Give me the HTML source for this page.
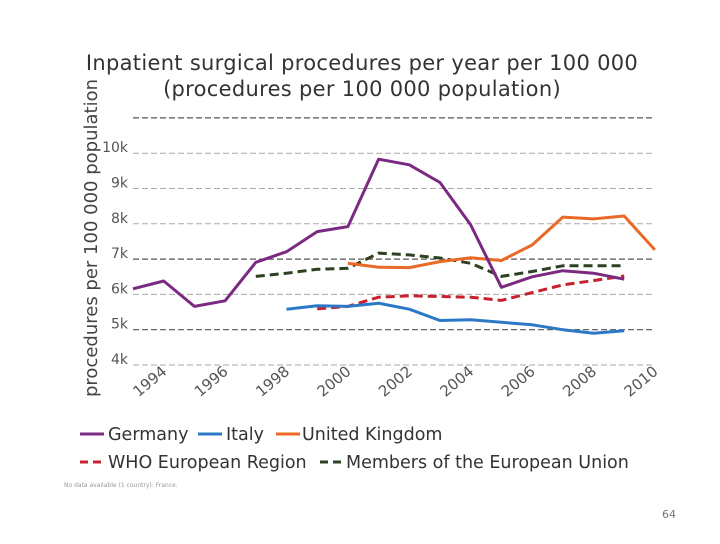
<!DOCTYPE html>
<html><head><meta charset="utf-8"><style>
body{margin:0;background:#fff;width:720px;height:540px;overflow:hidden;font-family:"DejaVu Sans","Liberation Sans",sans-serif}
</style></head><body>
<svg width="720" height="540">
<text x="362" y="70" text-anchor="middle" font-size="21" letter-spacing="0.3" fill="#333">Inpatient surgical procedures per year per 100 000</text>
<text x="362" y="96" text-anchor="middle" font-size="21" letter-spacing="0.3" fill="#333">(procedures per 100 000 population)</text>
<text transform="translate(97,238) rotate(-90)" text-anchor="middle" font-size="18" fill="#444">procedures per 100 000 population</text>
<g id="grid"></g><g id="ylab"></g><g id="xlab"></g><g id="series"></g>
<g font-size="17.5" fill="#333">
<line x1="80" y1="434" x2="104" y2="434" stroke="#7b2a82" stroke-width="3"/><text x="108" y="440">Germany</text>
<line x1="198" y1="434" x2="222" y2="434" stroke="#2b78c7" stroke-width="3"/><text x="226" y="440">Italy</text>
<line x1="276" y1="434" x2="300" y2="434" stroke="#e86a26" stroke-width="3"/><text x="302" y="440">United Kingdom</text>
<line x1="80" y1="462" x2="104" y2="462" stroke="#c8202f" stroke-width="3" stroke-dasharray="8,5"/><text x="108" y="468">WHO European Region</text>
<line x1="320" y1="462" x2="344" y2="462" stroke="#2d4020" stroke-width="3" stroke-dasharray="8,5"/><text x="346" y="468">Members of the European Union</text>
</g>
<text x="64" y="487" font-size="6" fill="#999">No data available (1 country): France.</text>
<text x="676" y="518" font-size="11" fill="#777" text-anchor="end">64</text>
</svg>
<script>
const years=[1993,1994,1995,1996,1997,1998,1999,2000,2001,2002,2003,2004,2005,2006,2007,2008,2009,2010];
const germany=[6.16,6.38,5.66,5.82,6.91,7.21,7.78,7.92,9.83,9.67,9.17,7.97,6.2,6.5,6.67,6.6,6.43,null];
const italy=[null,null,null,null,null,5.58,5.68,5.66,5.75,5.58,5.26,5.28,5.21,5.14,5.0,4.9,4.97,null];
const uk=[null,null,null,null,null,null,null,6.88,6.77,6.76,6.93,7.04,6.96,7.4,8.19,8.14,8.22,7.26];
const who=[null,null,null,null,null,null,5.59,5.66,5.92,5.96,5.94,5.92,5.83,6.05,6.27,6.39,6.52,null];
const eu=[null,null,null,null,6.51,6.6,6.71,6.74,7.17,7.12,7.03,6.88,6.51,6.65,6.81,6.81,6.81,null];
const yTicks=[4,5,6,7,8,9,10,11];
const yTickLabels=["4k","5k","6k","7k","8k","9k","10k",""];
const xTicks=[1994,1996,1998,2000,2002,2004,2006,2008,2010];
const NS="http://www.w3.org/2000/svg";
const X=y=>133+(y-1993)*30.7;
const Y=v=>365-(v-4)*35.3;
const R=655;
const grid=document.getElementById('grid'),ylab=document.getElementById('ylab'),xlab=document.getElementById('xlab'),ser=document.getElementById('series');
yTicks.forEach((t,i)=>{
  const l=document.createElementNS(NS,'line');
  l.setAttribute('x1',133);l.setAttribute('x2',R);l.setAttribute('y1',Y(t));l.setAttribute('y2',Y(t));
  const dark=(t===11||t===7||t===5);
  l.setAttribute('stroke',dark?'#555':'#aaa');l.setAttribute('stroke-width',dark?1.2:1);l.setAttribute('stroke-dasharray','6,3');
  
  
  grid.appendChild(l);
  if(yTickLabels[i]){
    const tx=document.createElementNS(NS,'text');
    tx.setAttribute('x',128);tx.setAttribute('y',Y(t)-1);tx.setAttribute('text-anchor','end');tx.setAttribute('font-size','14');tx.setAttribute('fill','#555');
    tx.textContent=yTickLabels[i];
    
    
    ylab.appendChild(tx);
  }
});
xTicks.forEach(t=>{
  const tx=document.createElementNS(NS,'text');
  const x=X(t),y=373;
  tx.setAttribute('transform','translate('+(x+4)+','+(y)+') rotate(-40)');
  tx.setAttribute('text-anchor','end');tx.setAttribute('font-size','15');tx.setAttribute('fill','#555');
  tx.textContent=t;
  
  
  xlab.appendChild(tx);
});
function draw(vals,color,dash,name){
  const pts=[];vals.forEach((v,i)=>{if(v!==null)pts.push(X(years[i]).toFixed(1)+','+Y(v).toFixed(1));});
  const p=document.createElementNS(NS,'polyline');
  p.setAttribute('points',pts.join(' '));p.setAttribute('fill','none');p.setAttribute('stroke',color);p.setAttribute('stroke-width',3);
  p.setAttribute('stroke-linejoin','round');
  if(dash)p.setAttribute('stroke-dasharray','9,5');
  
  
  ser.appendChild(p);
}
draw(eu,'#2d4020',true,'eu-line');
draw(who,'#c8202f',true,'who-line');
draw(italy,'#2b78c7',false,'italy-line');
draw(uk,'#e86a26',false,'uk-line');
draw(germany,'#7b2a82',false,'germany-line');
</script>
</body></html>
